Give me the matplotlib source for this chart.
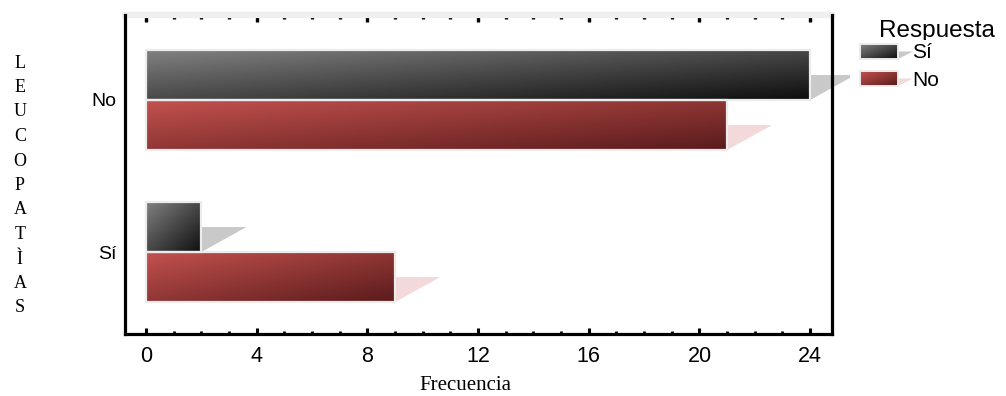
import numpy as np
import matplotlib
matplotlib.use('Agg')
import matplotlib.pyplot as plt
import matplotlib.colors as mcolors
from matplotlib.patches import Rectangle, Polygon
from matplotlib.ticker import MultipleLocator, NullFormatter

# datos: leucopatías (de abajo hacia arriba) y frecuencia por respuesta
categorias = ['Sí', 'No']
resp_si = [2, 24]
resp_no = [9, 21]
series = ['Sí', 'No']
xticks = [0, 4, 8, 12, 16, 20, 24]

colores = {'Sí': ('#828282', '#0e0e0e'), 'No': ('#c4524f', '#5a1b1b')}
sombras = {'Sí': '#c9c9c9', 'No': '#f3d9d9'}
borde = '#ececec'

plt.rcParams['font.family'] = ['Liberation Sans', 'DejaVu Sans']


def degradado(c0, c1, n=80):
    a = np.array(mcolors.to_rgb(c0))
    b = np.array(mcolors.to_rgb(c1))
    u, v = np.meshgrid(np.linspace(0, 1, n), np.linspace(0, 1, n))
    t = ((u + v) / 2)[..., None]
    return a * (1 - t) + b * t


W, H = 1006, 396
fig = plt.figure(figsize=(W / 100, H / 100), dpi=100)
ax = fig.add_axes([125 / W, 1 - 334 / H, (832 - 125) / W, (334 - 15) / H])

ypos = np.arange(len(categorias))
h = 0.329
sombra_w = 1.63

for nombre, valores, desp in [('Sí', resp_si, h / 2), ('No', resp_no, -h / 2)]:
    barras = ax.barh(ypos + desp, valores, height=h, facecolor='none',
                     edgecolor=borde, linewidth=1.6, zorder=3)
    for p in barras.patches:
        x0, y0, w, hh = p.get_x(), p.get_y(), p.get_width(), p.get_height()
        ax.imshow(degradado(*colores[nombre]), extent=(x0, x0 + w, y0, y0 + hh),
                  aspect='auto', origin='upper', zorder=2, interpolation='bilinear')
        yc = y0 + hh / 2
        ax.add_patch(Polygon([(x0 + w, yc), (x0 + w + sombra_w, yc), (x0 + w, y0)],
                             closed=True, facecolor=sombras[nombre], edgecolor='none',
                             zorder=1, clip_on=False))

ax.set_xlim(-0.76, 24.79)
ax.set_ylim(-0.539, 1.559)
ax.set_xticks(xticks)
ax.xaxis.set_minor_locator(MultipleLocator(1))
ax.set_yticks(ypos, categorias)

ax.tick_params(axis='x', which='major', direction='in', length=4, width=2.2,
               labelsize=15.5, pad=9, top=False)
ax.tick_params(axis='x', which='minor', direction='in', length=2.2, width=2, top=False)
ax.tick_params(axis='y', length=0, pad=6, labelsize=14)

for lado in ['left', 'bottom', 'right']:
    ax.spines[lado].set_linewidth(2.3)
    ax.spines[lado].set_color('black')
ax.spines['top'].set_visible(False)

sec = ax.secondary_xaxis('top')
sec.set_xticks(xticks)
sec.set_xticks(np.arange(0, 25), minor=True)
sec.xaxis.set_major_formatter(NullFormatter())
sec.xaxis.set_minor_formatter(NullFormatter())
sec.tick_params(which='major', direction='in', length=5, width=2.4, color='black')
sec.tick_params(which='minor', direction='in', length=2.6, width=2.4, color='black')
sec.spines['top'].set_color('#efefef')
sec.spines['top'].set_linewidth(4.5)

# etiquetas de ejes
for k, letra in enumerate('LEUCOPATÌAS'):
    fig.text(20 / W, 1 - (63 + k * 24.5) / H, letra, family='Liberation Serif',
             fontsize=13, ha='center', va='center')
fig.text(465 / W, 1 - 385 / H, 'Frecuencia', family='Liberation Serif',
         fontsize=15, ha='center', va='center')

# leyenda
lax = fig.add_axes([0, 0, 1, 1], zorder=5)
lax.set_xlim(0, W)
lax.set_ylim(H, 0)
lax.axis('off')
lax.text(879, 37, 'Respuesta', fontsize=17.5, va='baseline', zorder=1)
lax.add_patch(Rectangle((850, 40), 156, 60, facecolor='white', edgecolor='none', zorder=2))
for i, nombre in enumerate(series):
    y0 = 44 + i * 27
    lax.imshow(degradado(*colores[nombre]), extent=(860, 898, y0 + 15, y0),
               aspect='auto', origin='upper', zorder=3, interpolation='bilinear')
    lax.add_patch(Rectangle((860, y0), 38, 15, facecolor='none', edgecolor=borde,
                            linewidth=1.4, zorder=4))
    lax.add_patch(Polygon([(898, y0 + 7.5), (913, y0 + 7.5), (898, y0 + 15)],
                          closed=True, facecolor=sombras[nombre], edgecolor='none', zorder=3))
    lax.text(912, y0 + 9, nombre, fontsize=15, va='center', zorder=4)
lax.set_xlim(0, W)
lax.set_ylim(H, 0)

fig.savefig('out.png', dpi=100)
